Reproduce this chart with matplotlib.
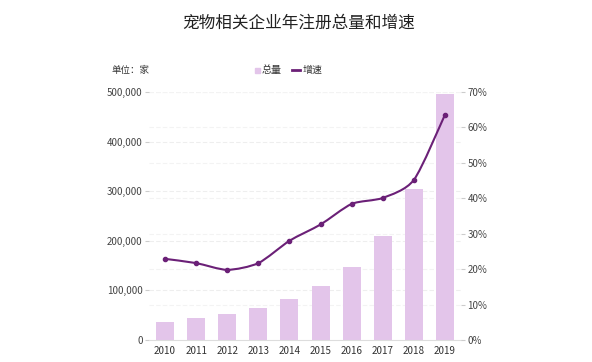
import matplotlib
matplotlib.use("Agg")
import matplotlib.pyplot as plt
from matplotlib.path import Path
from matplotlib.patches import PathPatch
from matplotlib.ticker import FuncFormatter
import numpy as np

plt.rcParams['font.family'] = ['Noto Sans CJK SC', 'DejaVu Sans']

years = ['2010', '2011', '2012', '2013', '2014', '2015', '2016', '2017', '2018', '2019']
totals = [36000, 44000, 52000, 64000, 82000, 108000, 148000, 209000, 305000, 496000]
growth = [22.9, 21.7, 19.8, 21.7, 28.0, 32.6, 38.4, 40.1, 45.2, 63.6]

bar_color = '#e3c5ea'
line_color = '#6b2077'
text_color = '#444444'
LMAX, RMAX = 500000, 70

W, H = 592.0, 362.0
fig = plt.figure(figsize=(5.92, 3.62), dpi=100)
ax = fig.add_axes([0.2525, 0.0608, 0.778 - 0.2525, 0.746 - 0.0608])
ax2 = ax.twinx()

x = np.arange(len(years))
ax.bar(x, totals, width=0.58, color=bar_color, zorder=2)
ax.set_xlim(-0.5, len(years) - 0.5)
ax.set_ylim(0, LMAX)
ax.set_yticks(np.arange(0, LMAX + 1, 100000))
ax.yaxis.set_major_formatter(FuncFormatter(lambda v, p: f'{int(v):,}'))
ax.set_xticks(x)
ax.set_xticklabels(years)

ax2.set_ylim(0, RMAX)
ax2.set_yticks(np.arange(0, RMAX + 1, 10))
ax2.yaxis.set_major_formatter(FuncFormatter(lambda v, p: f'{int(v)}%'))

for a in (ax, ax2):
    for s in ['top', 'left', 'right', 'bottom']:
        a.spines[s].set_visible(False)
    a.tick_params(axis='y', length=3, color='#cccccc', labelsize=7, labelcolor=text_color, pad=2)
ax.tick_params(axis='x', length=0, labelsize=7.1, labelcolor='#333333', pad=4)
ax.spines['bottom'].set_visible(True)
ax.spines['bottom'].set_color('#dddddd')

for v in np.arange(100000, LMAX + 1, 100000):
    ax.axhline(v, color='#eeeeee', lw=0.8, ls=(0, (4, 2)), zorder=0)
for v in np.arange(10, RMAX + 1, 10):
    ax.axhline(v / RMAX * LMAX, color='#f3f3f3', lw=0.8, ls=(0, (4, 2)), zorder=0)

# smooth line through data points (cardinal spline drawn as cubic Bezier)
px = x.astype(float)
py = np.array(growth, dtype=float)
verts = [(px[0], py[0])]
codes = [Path.MOVETO]
n = len(px)
k = 8.0
for i in range(n - 1):
    p0 = (px[max(i - 1, 0)], py[max(i - 1, 0)])
    p1 = (px[i], py[i])
    p2 = (px[i + 1], py[i + 1])
    p3 = (px[min(i + 2, n - 1)], py[min(i + 2, n - 1)])
    c1 = (p1[0] + (p2[0] - p0[0]) / k, p1[1] + (p2[1] - p0[1]) / k)
    c2 = (p2[0] - (p3[0] - p1[0]) / k, p2[1] - (p3[1] - p1[1]) / k)
    verts += [c1, c2, p2]
    codes += [Path.CURVE4] * 3
ax2.add_patch(PathPatch(Path(verts, codes), fill=False, edgecolor=line_color, lw=1.5, zorder=3))
ax2.plot(px, py, 'o', color=line_color, ms=3, zorder=4)

fig.text(299 / W, 1 - 23 / H, '宠物相关企业年注册总量和增速', ha='center', va='center',
         fontsize=12, color='#222222')
ly = 1 - 70 / H
fig.text(111 / W, ly, '单位：家', ha='left', va='center', fontsize=6.8, color='#333333')
# legend
fig.patches.append(plt.Rectangle((255 / W, ly - 2.5 / H), 5 / W, 5 / H, transform=fig.transFigure,
                                 color=bar_color, figure=fig))
fig.text(262 / W, ly, '总量', ha='left', va='center', fontsize=7.2, color='#333333')
fig.lines.append(plt.Line2D([292 / W, 300 / W], [ly, ly], transform=fig.transFigure,
                            color=line_color, lw=2, figure=fig))
fig.text(303 / W, ly, '增速', ha='left', va='center', fontsize=7.2, color='#333333')

fig.savefig('out.png', dpi=100)
